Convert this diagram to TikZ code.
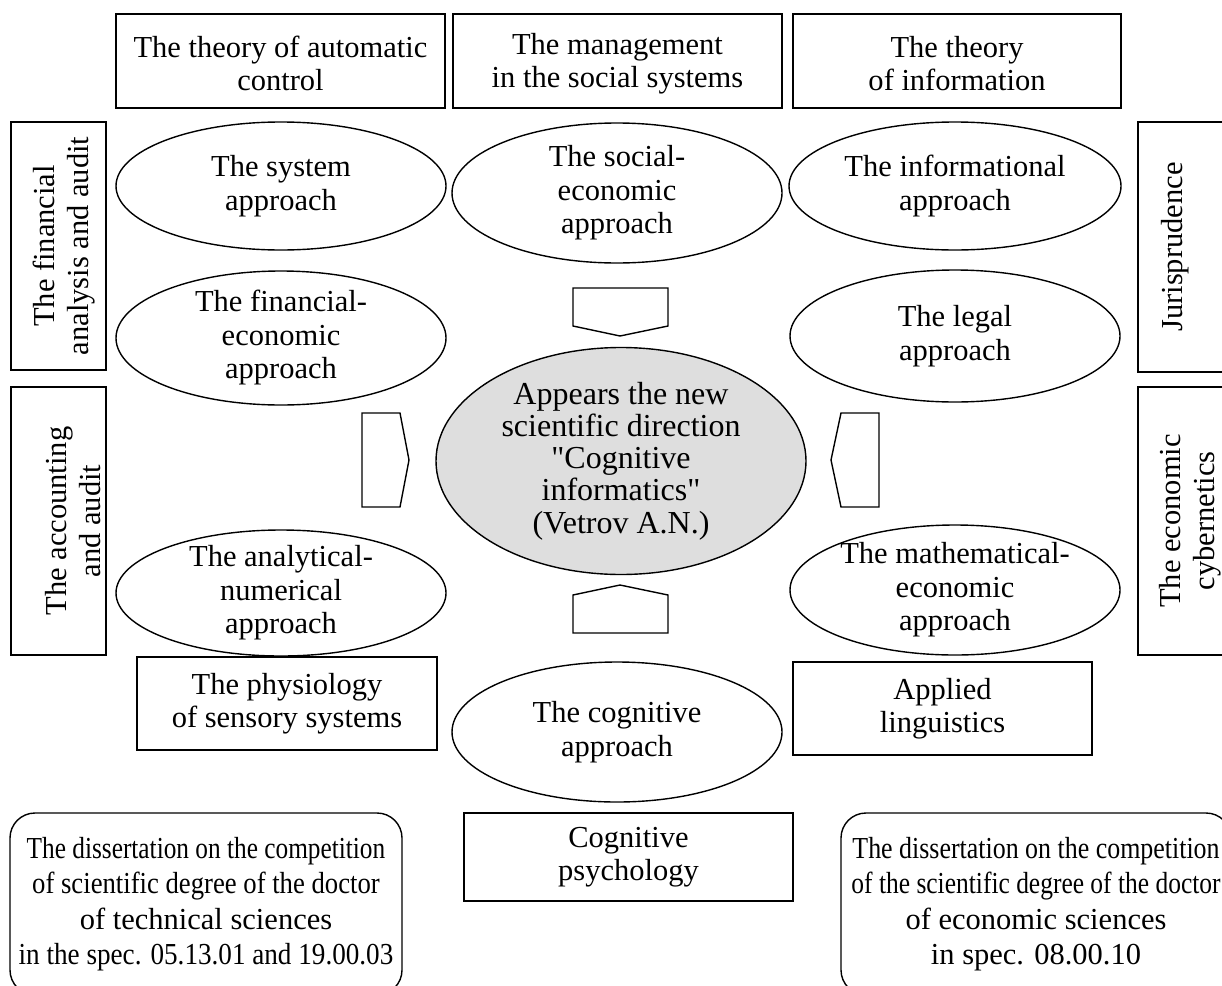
\documentclass[tikz,border=0pt]{standalone}
\usepackage{fontspec}
\setmainfont{Liberation Serif}
\newfontfamily\qfont{Liberation Serif}
\usetikzlibrary{shapes.geometric}
\newcommand\myxsq[2]{\scalebox{#1}[1]{#2}}
\newcommand\sq{{\qfont"}}
\begin{document}
\begin{tikzpicture}[x=1pt,y=-1pt,line width=1.4pt,
  every node/.style={font=\fontsize{30.5}{33.5}\selectfont, align=center, inner sep=0pt},
  box/.style={draw, rectangle},
  rbox/.style={draw, rectangle, rounded corners=25pt, font=\fontsize{30.5}{35.5}\selectfont},
  appr/.style={draw, ellipse},
  core/.style={draw, ellipse, fill=black!13},
  pent/.style={draw, line join=miter}]
\useasboundingbox (0,0) rectangle (1222,985);
\clip (0,0) rectangle (1222,985);
% top boxes
\node[box, minimum width=329, minimum height=94] (t1) at (280.5,61) {};
\node at (280.5,63.5) {The theory of automatic\\control};
\node[box, minimum width=329, minimum height=94] (t2) at (617.5,61) {};
\node at (617.5,63.5) {The management\\in the social systems};
\node[box, minimum width=328, minimum height=94] (t3) at (957,61) {};
\node at (957,63.5) {The theory\\of information};
% side boxes
\node[box, minimum width=95, minimum height=248] (l1) at (58.5,246) {};
\node[rotate=90] at (64,246) {The financial\\analysis and audit};
\node[box, minimum width=95, minimum height=268] (l2) at (58.5,521) {};
\node[rotate=90] at (73,521) {The accounting\\and audit};
\node[box, minimum width=97, minimum height=250] (r1) at (1186.5,247) {};
\node[rotate=90] at (1175,247) {Jurisprudence};
\node[box, minimum width=97, minimum height=268] (r2) at (1186.5,521) {};
\node[rotate=90] at (1190,521) {The economic\\cybernetics};
% approach ellipses
\node[appr, minimum width=330, minimum height=128] (sys) at (281,186) {};
\node at (sys.center) {The system\\approach};
\node[appr, minimum width=330, minimum height=140] (soc) at (617,193) {};
\node at (soc.center) {The social-\\economic\\approach};
\node[appr, minimum width=332, minimum height=128] (inf) at (955,186) {};
\node at (inf.center) {The informational\\approach};
\node[appr, minimum width=330, minimum height=134] (fin) at (281,338) {};
\node at (fin.center) {The financial-\\economic\\approach};
\node[appr, minimum width=330, minimum height=132] (leg) at (955,336) {};
\node at (leg.center) {The legal\\approach};
\node[appr, minimum width=330, minimum height=126] (ana) at (281,593) {};
\node at (ana.center) {The analytical-\\numerical\\approach};
\node[appr, minimum width=330, minimum height=130] (mat) at (955,590) {};
\node at (mat.center) {The mathematical-\\economic\\approach};
\node[appr, minimum width=330, minimum height=140] (cog) at (617,732) {};
\node at (cog.center) {The cognitive\\approach};
% core
\node[core, minimum width=370, minimum height=227] (cor) at (621,461) {};
\node[font=\fontsize{32}{32.2}\selectfont] at (cor.center) {Appears the new\\scientific direction\\\sq Cognitive\\informatics\sq\\(Vetrov A.N.)};
% arrows
\draw[pent] (573,288) -- (668,288) -- (668,326) -- (620,336) -- (573,326) -- cycle;
\draw[pent] (573,633) -- (668,633) -- (668,595) -- (620,585) -- (573,595) -- cycle;
\draw[pent] (362,413) -- (400,413) -- (409,460) -- (400,507) -- (362,507) -- cycle;
\draw[pent] (879,413) -- (841,413) -- (831,460) -- (841,507) -- (879,507) -- cycle;
% lower boxes
\node[box, minimum width=300, minimum height=93] (phy) at (287,703.5) {};
\node at (phy.center) {The physiology\\of sensory systems};
\node[box, minimum width=299, minimum height=93] (lin) at (942.5,708.5) {};
\node at (lin.center) {Applied\\linguistics};
\node[box, minimum width=329, minimum height=88] (psy) at (628.5,857) {};
\node at (psy.center) {Cognitive\\psychology};
% dissertation boxes
\node[rbox, minimum width=392, minimum height=182] (d1) at (206,904) {};
\node[font=\fontsize{30.5}{35.5}\selectfont] at (d1.center) {\myxsq{0.83}{The dissertation on the competition}\\\myxsq{0.875}{of scientific degree of the doctor}\\of technical sciences\\\myxsq{0.89}{in the spec. 05.13.01 and 19.00.03}};
\node[rbox, minimum width=390, minimum height=182] (d2) at (1036,904) {};
\node[font=\fontsize{30.5}{35.5}\selectfont] at (d2.center) {\myxsq{0.85}{The dissertation on the competition}\\\myxsq{0.835}{of the scientific degree of the doctor}\\of economic sciences\\in spec. 08.00.10};
\end{tikzpicture}
\end{document}
